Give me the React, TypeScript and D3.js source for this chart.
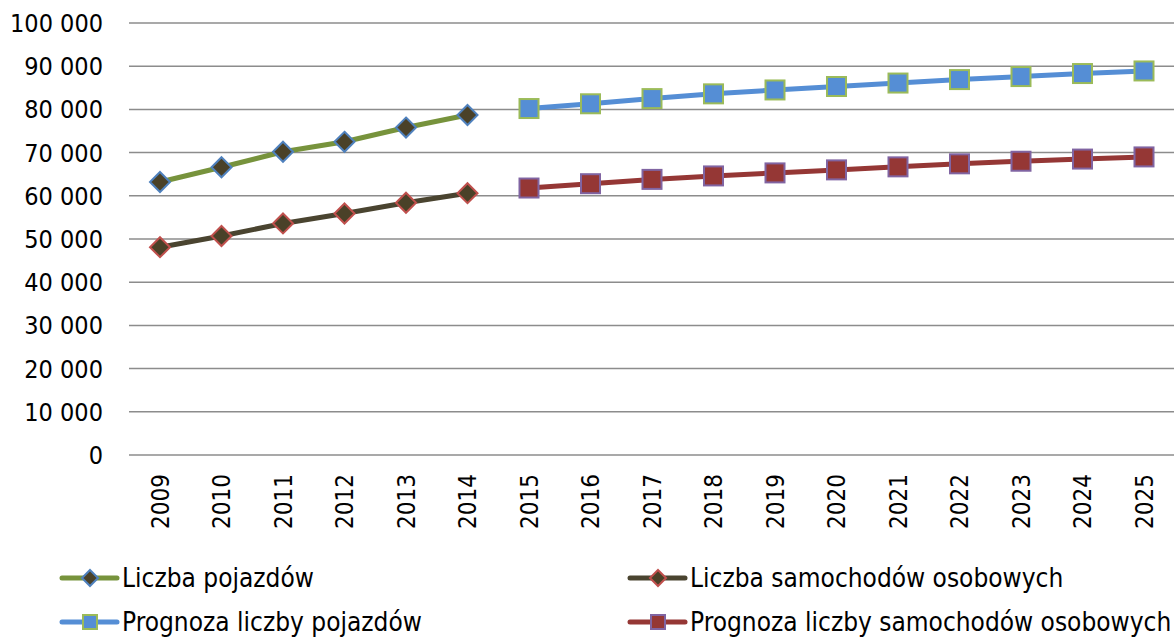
import React, { useEffect, useRef } from 'react';
import * as d3 from 'd3';

const years = d3.range(2009, 2026).map(String);
const histYears = ['2009', '2010', '2011', '2012', '2013', '2014'];
const fcYears = ['2015', '2016', '2017', '2018', '2019', '2020', '2021', '2022', '2023', '2024', '2025'];

const pojazdy = [63200, 66600, 70200, 72500, 75800, 78700];
const samochody = [48100, 50700, 53600, 55900, 58400, 60600];
const prognozaPojazdy = [80200, 81300, 82500, 83600, 84500, 85300, 86100, 86900, 87600, 88300, 88900];
const prognozaSamochody = [61800, 62800, 63800, 64600, 65300, 66000, 66700, 67400, 68000, 68500, 69000];

const yTicks = [0, 10000, 20000, 30000, 40000, 50000, 60000, 70000, 80000, 90000, 100000];

const FONT = '"DejaVu Sans Condensed", "DejaVu Sans", sans-serif';

function App() {
  const ref = useRef(null);

  useEffect(() => {
    const svg = d3.select(ref.current);
    svg.selectAll('*').remove();

    const x = d3.scalePoint().domain(years).range([160, 1144]);
    const y = d3.scaleLinear().domain([0, 100000]).range([455, 23]);
    const fmt = (v) => d3.format(',')(v).replace(/,/g, ' ');

    // gridlines
    svg.append('g')
      .selectAll('line')
      .data(yTicks)
      .enter().append('line')
      .attr('x1', 129).attr('x2', 1174)
      .attr('y1', (d) => y(d)).attr('y2', (d) => y(d))
      .attr('stroke', '#8c8c8c')
      .attr('stroke-width', 1.5);

    // y labels
    svg.append('g')
      .selectAll('text')
      .data(yTicks)
      .enter().append('text')
      .attr('x', 103)
      .attr('y', (d) => y(d))
      .attr('dy', '0.36em')
      .attr('text-anchor', 'end')
      .style('font-family', FONT)
      .style('font-size', '25px')
      .text((d) => fmt(d));

    // x labels
    svg.append('g')
      .selectAll('text')
      .data(years)
      .enter().append('text')
      .attr('transform', (d) => `translate(${x(d)},474) rotate(-90)`)
      .attr('dy', '0.36em')
      .attr('text-anchor', 'end')
      .style('font-family', FONT)
      .style('font-size', '24px')
      .text((d) => d);

    const series = [
      { name: 'Liczba pojazdów', cats: histYears, vals: pojazdy, line: '#77933c', fill: '#4a4128', stroke: '#4f81bd', shape: 'diamond' },
      { name: 'Liczba samochodów osobowych', cats: histYears, vals: samochody, line: '#4a4430', fill: '#4a4128', stroke: '#c0504d', shape: 'diamond' },
      { name: 'Prognoza liczby pojazdów', cats: fcYears, vals: prognozaPojazdy, line: '#558ed5', fill: '#558ed5', stroke: '#9bbb59', shape: 'square' },
      { name: 'Prognoza liczby samochodów osobowych', cats: fcYears, vals: prognozaSamochody, line: '#953735', fill: '#953735', stroke: '#8064a2', shape: 'square' },
    ];

    const line = d3.line().x((d) => d[0]).y((d) => d[1]);

    const drawMarker = (g, s, cx, cy, r) => {
      if (s.shape === 'diamond') {
        g.append('path')
          .attr('d', `M${cx},${cy - r}L${cx + r},${cy}L${cx},${cy + r}L${cx - r},${cy}Z`)
          .attr('fill', s.fill).attr('stroke', s.stroke).attr('stroke-width', 2);
      } else {
        g.append('rect')
          .attr('x', cx - r).attr('y', cy - r).attr('width', 2 * r).attr('height', 2 * r)
          .attr('fill', s.fill).attr('stroke', s.stroke).attr('stroke-width', 2);
      }
    };

    series.forEach((s) => {
      const pts = s.cats.map((c, i) => [x(c), y(s.vals[i])]);
      const g = svg.append('g');
      g.append('path')
        .attr('d', line(pts))
        .attr('fill', 'none')
        .attr('stroke', s.line)
        .attr('stroke-width', 5)
        .attr('stroke-linejoin', 'round');
      pts.forEach((p) => drawMarker(g, s, p[0], p[1], s.shape === 'diamond' ? 10 : 9.5));
    });

    // legend
    const legendPos = [[62, 578], [630, 578], [62, 622], [630, 622]];
    series.forEach((s, i) => {
      const [lx, ly] = legendPos[i];
      const g = svg.append('g');
      g.append('line')
        .attr('x1', lx).attr('x2', lx + 55)
        .attr('y1', ly).attr('y2', ly)
        .attr('stroke', s.line).attr('stroke-width', 5)
        .attr('stroke-linecap', 'round');
      drawMarker(g, s, lx + 28, ly, s.shape === 'diamond' ? 8 : 7);
      g.append('text')
        .attr('x', lx + 60)
        .attr('y', ly)
        .attr('dy', '0.36em')
        .style('font-family', FONT)
        .style('font-size', '26px')
        .text(s.name);
    });

    return () => {
      d3.select(ref.current).selectAll('*').remove();
    };
  }, []);

  return (
    <svg ref={ref} width={1174} height={638} style={{ position: 'absolute', left: 0, top: 0, background: '#fff' }}></svg>
  );
}

export default App;
